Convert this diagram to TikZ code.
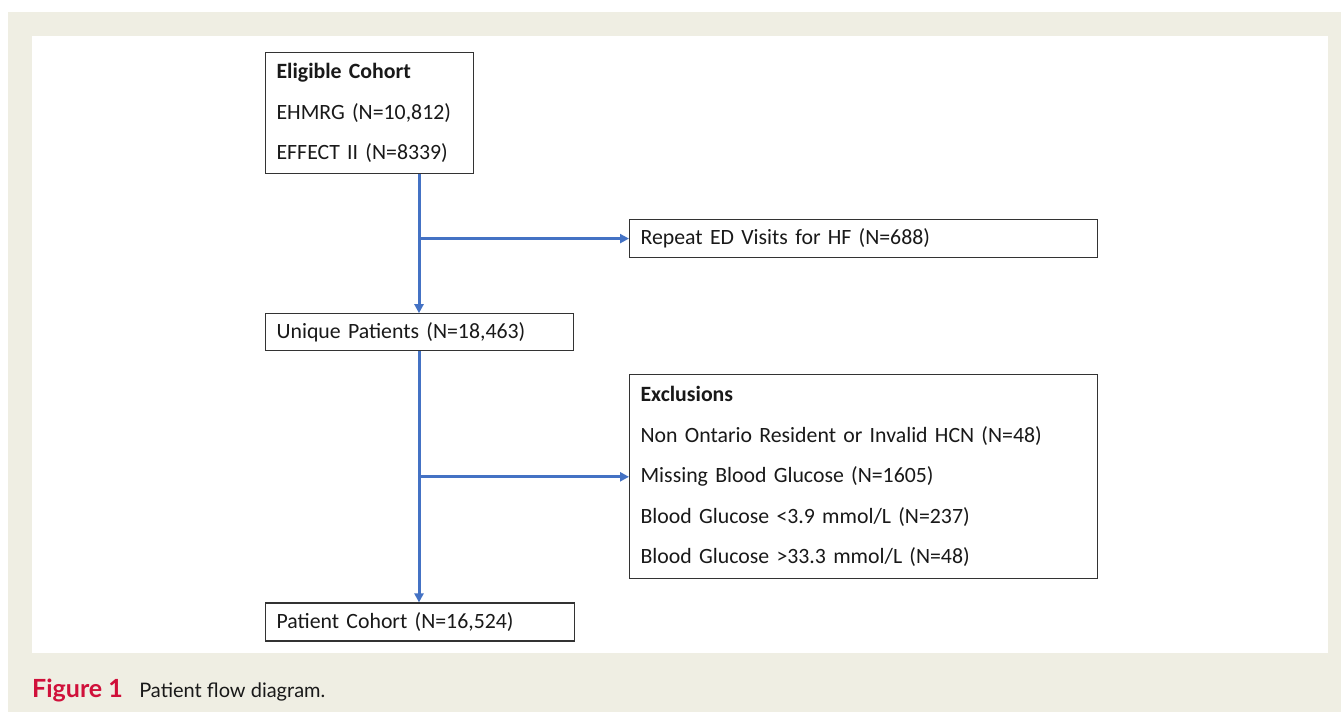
\documentclass[tikz,border=0pt]{standalone}
\usepackage{fontspec}
\setmainfont{Carlito}
\newfontfamily\capfont{Lato}
\usepackage{xcolor}
\usetikzlibrary{positioning, arrows.meta}
\definecolor{flowBlue}{HTML}{4472C4}
\definecolor{paperBeige}{HTML}{EFEEE3}
\definecolor{figRed}{HTML}{D0103A}
\tikzset{
    stage/.style={rectangle, draw=black!80, line width=1.2pt, fill=white, align=left, anchor=north west, inner xsep=11pt, inner ysep=0pt, text=black!90, font=\fontsize{21.8}{40.5}\selectfont},
    flow/.style={-{Triangle[length=9pt, width=9pt]}, draw=flowBlue, line width=3pt},
    caption/.style={anchor=base west, inner sep=0pt, text=black!90}
}

\begin{document}
\begin{tikzpicture}[x=1pt, y=-1pt]
        \useasboundingbox (0,0) rectangle (1341,712);
        % Page
        \fill[paperBeige] (8,12) rectangle (1341,712);
        \fill[white] (32,36) rectangle (1328,653);

        % Main column
        \node[stage, text width=186pt, minimum height=121pt] (Eligible) at (265,52) {%
            \textbf{Eligible Cohort}\\
            EHMRG (N=10,812)\\
            EFFECT II (N=8339)};
        \node[stage, below=139pt of Eligible.south west, anchor=north west, text width=286pt, minimum height=37pt] (Unique) {Unique Patients (N=18,463)};
        \node[stage, below=251pt of Unique.south west, anchor=north west, text width=287pt, minimum height=38pt] (Patient) {Patient Cohort (N=16,524)};

        % Side boxes
        \node[stage, text width=446pt, minimum height=38pt] (Repeat) at (629,219) {Repeat ED Visits for HF (N=688)};
        \node[stage, below=116pt of Repeat.south west, anchor=north west, text width=446pt, minimum height=204pt] (Exclusions) {%
            \textbf{Exclusions}\\
            Non Ontario Resident or Invalid HCN (N=48)\\
            Missing Blood Glucose (N=1605)\\
            Blood Glucose <3.9 mmol/L (N=237)\\
            Blood Glucose >33.3 mmol/L (N=48)};

        % Arrows
        \coordinate[right=154pt of Eligible.south west] (Trunk);
        \draw[flow] (Trunk) -- (Trunk |- Unique.north);
        \draw[flow] (Trunk |- Unique.south) -- (Trunk |- Patient.north);
        \draw[flow] (Trunk |- Repeat.west) -- (Repeat.west);
        \draw[flow] (Trunk |- Exclusions.west) -- (Exclusions.west);

        % Caption
        \node[caption, text=figRed, font=\capfont\bfseries\fontsize{25}{28}\selectfont] (FigLabel) at (32,697) {Figure 1};
        \node[caption, right=16pt of FigLabel.base east, anchor=base west, font=\capfont\fontsize{20}{24}\selectfont] (FigText) {Patient flow diagram.};
    \end{tikzpicture}
\end{document}
